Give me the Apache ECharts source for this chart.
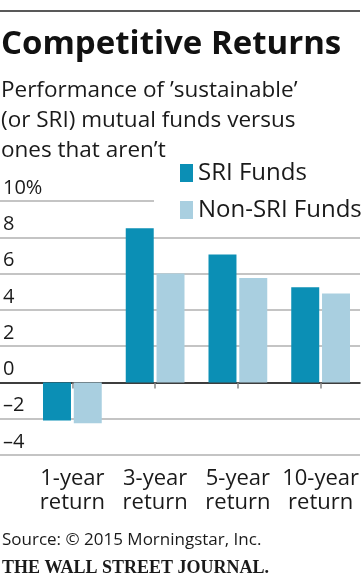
<!DOCTYPE html>
<html>
<head>
<meta charset="utf-8">
<script src="https://cdn.jsdelivr.net/npm/echarts@6/dist/echarts.min.js"></script>
<style>
html,body{margin:0;padding:0;background:#fff;}
#c{width:362px;height:579px;}
</style>
</head>
<body>
<div id="c"></div>
<script>
var categories = ['1-year\nreturn', '3-year\nreturn', '5-year\nreturn', '10-year\nreturn'];
var sriFunds = [-2.1, 8.5, 7.05, 5.25];
var nonSriFunds = [-2.25, 6.0, 5.75, 4.9];
var seriesNames = ['SRI Funds', 'Non-SRI Funds'];
var yMin = -4, yMax = 10, yStep = 2;

var FONT = 'Open Sans';
var TXT = '#1a1a1a';
var chart = echarts.init(document.getElementById('c'), null, {renderer: 'canvas'});
chart.setOption({
  backgroundColor: '#fff',
  animation: false,
  color: ['#0b8fb5', '#a9cfe0'],
  title: [
    {text: 'Competitive Returns', left: 1, top: 28, padding: 0,
     textStyle: {fontFamily: FONT, fontWeight: 'bold', fontSize: 33, color: '#111', lineHeight: 33}},
    {text: 'Performance of \u2019sustainable\u2019\n(or SRI) mutual funds versus\nones that aren\u2019t', left: 1, top: 76, padding: 0,
     textStyle: {fontFamily: FONT, fontWeight: 'normal', fontSize: 22.5, color: TXT, lineHeight: 30}},
    {text: 'Source: \u00a9 2015 Morningstar, Inc.', left: 2, top: 530, padding: 0,
     textStyle: {fontFamily: FONT, fontWeight: 'normal', fontSize: 17, color: TXT, lineHeight: 20}},
    {text: 'THE WALL STREET JOURNAL.', left: 2, top: 558, padding: 0,
     textStyle: {fontFamily: 'Liberation Serif', fontWeight: 'bold', fontSize: 18, color: TXT, lineHeight: 20}}
  ],
  legend: {
    orient: 'vertical', left: 180, top: 161, padding: 0, z: 10,
    itemWidth: 13, itemHeight: 18, itemGap: 13, icon: 'rect',
    textStyle: {fontFamily: FONT, fontSize: 24, color: TXT, lineHeight: 18},
    data: seriesNames
  },
  graphic: [
    {type: 'line', shape: {x1: 0, y1: 11, x2: 360, y2: 11}, style: {stroke: '#222', lineWidth: 1.5}, z: 100},
    {type: 'rect', shape: {x: 154, y: 197, width: 210, height: 8}, style: {fill: '#fff'}, z: 1}
  ],
  grid: [
    {left: 0, right: 2, top: 201, bottom: 124},
    {left: 31, width: 333, top: 201, bottom: 124}
  ],
  xAxis: [
    {gridIndex: 0, type: 'value', min: 0, max: 1, show: true,
     axisLine: {show: true, onZero: true, lineStyle: {color: '#111', width: 1.5}},
     axisTick: {show: false}, axisLabel: {show: false}, splitLine: {show: false}},
    {gridIndex: 1, type: 'category', data: categories,
     axisLine: {show: false},
     axisTick: {show: true, alignWithLabel: true, length: 6, lineStyle: {color: '#888', width: 1.5}},
     axisLabel: {interval: 0, fontFamily: FONT, fontSize: 22, lineHeight: 24, color: TXT, margin: 12}}
  ],
  yAxis: [
    {gridIndex: 0, type: 'value', min: yMin, max: yMax, interval: yStep,
     axisLine: {show: false}, axisTick: {show: false},
     splitLine: {show: true, lineStyle: {color: '#b0b0b0', width: 1.5}},
     axisLabel: {inside: true, align: 'left', verticalAlign: 'bottom', margin: 3, padding: [0, 0, 3, 0],
       fontFamily: FONT, fontSize: 20, color: TXT,
       formatter: function (v) { return v === yMax ? v + '%' : (v < 0 ? '\u2013' + Math.abs(v) : '' + v); }}},
    {gridIndex: 1, type: 'value', min: yMin, max: yMax, interval: yStep, show: false}
  ],
  series: [
    {name: seriesNames[0], type: 'bar', xAxisIndex: 1, yAxisIndex: 1, data: sriFunds,
     barGap: '10%', barCategoryGap: '29%'},
    {name: seriesNames[1], type: 'bar', xAxisIndex: 1, yAxisIndex: 1, data: nonSriFunds,
     barGap: '10%', barCategoryGap: '29%'}
  ]
});
</script>
</body>
</html>
